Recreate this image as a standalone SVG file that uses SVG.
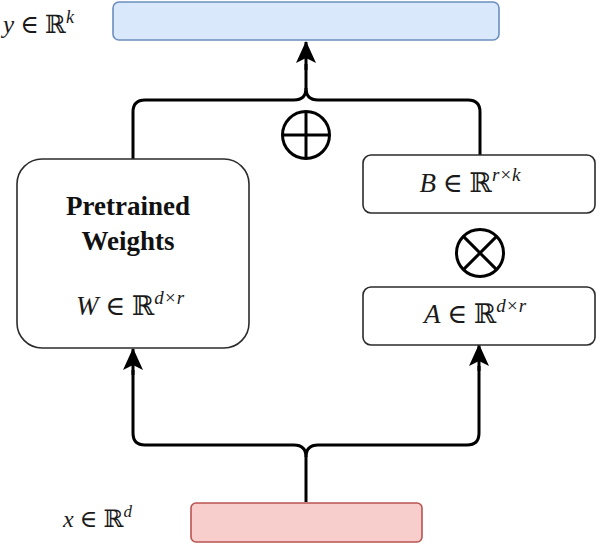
<svg xmlns="http://www.w3.org/2000/svg" width="597" height="544" viewBox="0 0 597 544">
  <style>
    .box { fill: #ffffff; stroke: #2b2b2b; stroke-width: 1.6; }
    .wire { fill: none; stroke: #000000; stroke-width: 3; stroke-linejoin: round; }
    .op { fill: none; stroke: #000000; stroke-width: 3; }
    .math { font-family: "Liberation Serif", "DejaVu Serif", serif; fill: #1a1a1a; }
    .var { font-style: italic; }
    .title { font-family: "Liberation Serif", "DejaVu Serif", serif; font-weight: bold; font-size: 27px; fill: #111111; text-anchor: middle; }
  </style>
  <defs>
    <!-- classic arrowhead pointing along +x, tip at the path end -->
    <marker id="arrow" viewBox="0 0 22 20" refX="21" refY="10" markerWidth="22" markerHeight="20" markerUnits="userSpaceOnUse" orient="auto">
      <path d="M22,10 L0,0 L5,10 L0,20 Z" fill="#000000"/>
    </marker>
  </defs>

  <rect width="597" height="544" fill="#ffffff"/>

  <!-- connectors -->
  <g id="connectors">
    <!-- merge into output -->
    <path class="wire" d="M133,159 V112 Q133,100 145,100 H294 Q306,100 306,88 V64"/>
    <path class="wire" d="M480,155 V112 Q480,100 468,100 H318 Q306,100 306,88"/>
    <path class="wire" d="M306,70 V42" marker-end="url(#arrow)"/>
    <!-- split from input -->
    <path class="wire" d="M306,502 V457 Q306,445 294,445 H145 Q133,445 133,433 V370"/>
    <path class="wire" d="M306,457 Q306,445 318,445 H467 Q479,445 479,433 V366"/>
    <path class="wire" d="M133,375 V349" marker-end="url(#arrow)"/>
    <path class="wire" d="M479,371 V345" marker-end="url(#arrow)"/>
  </g>

  <!-- output -->
  <g id="output">
    <rect x="113" y="2" width="386" height="38" rx="6" fill="#dae8fc" stroke="#6c8ebf" stroke-width="1.6"/>
    <text class="math" x="3" y="33" font-size="25"><tspan class="var">y</tspan> ∈ ℝ<tspan class="var" font-size="18" dy="-10">k</tspan></text>
  </g>

  <!-- pretrained weights -->
  <g id="pretrained">
    <rect class="box" x="17" y="159" width="232" height="189" rx="25"/>
    <text class="title" x="128" y="215">Pretrained</text>
    <text class="title" x="128" y="250">Weights</text>
    <text class="math" x="130" y="315" font-size="27" text-anchor="middle"><tspan class="var">W</tspan> ∈ ℝ<tspan class="var" font-size="19" dy="-11">d×r</tspan></text>
  </g>

  <!-- addition -->
  <g id="add">
    <circle class="op" cx="306" cy="135" r="23.5"/>
    <path class="op" d="M282.5,135 H329.5 M306,111.5 V158.5"/>
  </g>

  <!-- B matrix -->
  <g id="matB">
    <rect class="box" x="363" y="155" width="232" height="58" rx="8"/>
    <text class="math" x="470" y="192" font-size="27" text-anchor="middle"><tspan class="var">B</tspan> ∈ ℝ<tspan class="var" font-size="19" dy="-11">r×k</tspan></text>
  </g>

  <!-- multiplication -->
  <g id="mul">
    <circle class="op" cx="480" cy="253" r="23.5"/>
    <path class="op" d="M463.4,236.4 L496.6,269.6 M496.6,236.4 L463.4,269.6"/>
  </g>

  <!-- A matrix -->
  <g id="matA">
    <rect class="box" x="363" y="287" width="232" height="58" rx="8"/>
    <text class="math" x="475" y="323" font-size="27" text-anchor="middle"><tspan class="var">A</tspan> ∈ ℝ<tspan class="var" font-size="19" dy="-11">d×r</tspan></text>
  </g>

  <!-- input -->
  <g id="input">
    <rect x="191" y="503" width="231" height="39" rx="5" fill="#f8cecc" stroke="#b85450" stroke-width="1.6"/>
    <text class="math" x="63" y="527" font-size="24"><tspan class="var">x</tspan> ∈ ℝ<tspan class="var" font-size="17" dy="-10">d</tspan></text>
  </g>
</svg>
